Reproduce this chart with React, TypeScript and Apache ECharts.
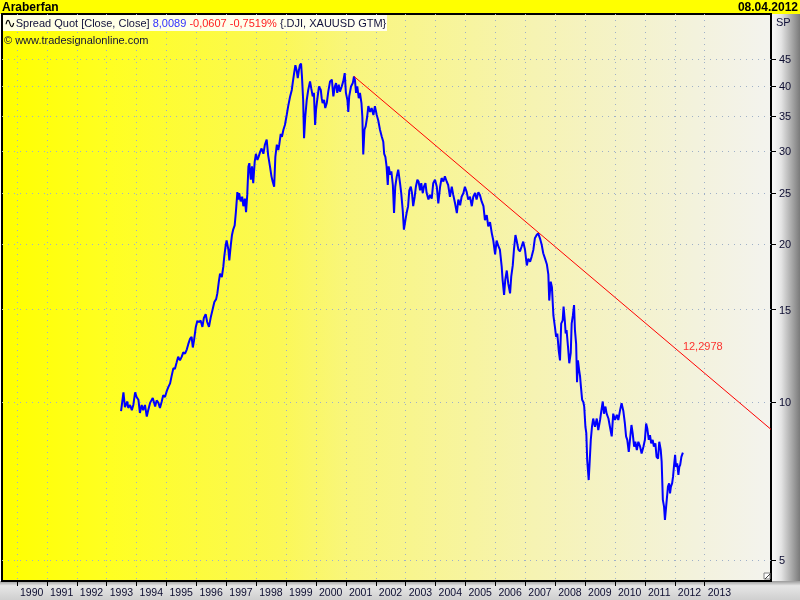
import React, { useEffect, useRef } from "react";
import * as echarts from "echarts";

const years = [
  1993.48, 1993.56, 1993.61, 1993.69, 1993.72, 1993.78, 1993.84, 1993.89, 1993.95, 1994.0,
  1994.06, 1994.11, 1994.17, 1994.22, 1994.28, 1994.34, 1994.39, 1994.45, 1994.54, 1994.62,
  1994.67, 1994.73, 1994.78, 1994.84, 1994.89, 1994.95, 1995.01, 1995.06, 1995.12, 1995.17,
  1995.23, 1995.28, 1995.34, 1995.39, 1995.45, 1995.51, 1995.56, 1995.62, 1995.68, 1995.73,
  1995.79, 1995.84, 1995.88, 1995.92, 1995.98, 1996.03, 1996.1, 1996.14, 1996.2, 1996.25,
  1996.31, 1996.36, 1996.42, 1996.48, 1996.53, 1996.6, 1996.66, 1996.7, 1996.75, 1996.79,
  1996.85, 1996.9, 1996.93, 1996.98, 1997.01, 1997.07, 1997.1, 1997.15, 1997.19, 1997.23,
  1997.28, 1997.32, 1997.37, 1997.4, 1997.43, 1997.48, 1997.53, 1997.57, 1997.62, 1997.66,
  1997.7, 1997.74, 1997.77, 1997.82, 1997.86, 1997.9, 1997.95, 1997.99, 1998.04, 1998.08,
  1998.13, 1998.18, 1998.24, 1998.29, 1998.35, 1998.4, 1998.46, 1998.51, 1998.55, 1998.6,
  1998.64, 1998.69, 1998.74, 1998.77, 1998.82, 1998.86, 1998.91, 1998.96, 1999.02, 1999.07,
  1999.13, 1999.19, 1999.22, 1999.26, 1999.31, 1999.35, 1999.39, 1999.43, 1999.46, 1999.5,
  1999.53, 1999.57, 1999.6, 1999.64, 1999.69, 1999.74, 1999.8, 1999.84, 1999.89, 1999.93,
  1999.97, 2000.0, 2000.04, 2000.1, 2000.16, 2000.19, 2000.22, 2000.27, 2000.31, 2000.36,
  2000.41, 2000.47, 2000.53, 2000.58, 2000.63, 2000.67, 2000.71, 2000.76, 2000.8, 2000.86,
  2000.91, 2000.96, 2001.0, 2001.05, 2001.08, 2001.11, 2001.17, 2001.23, 2001.27, 2001.3,
  2001.34, 2001.38, 2001.43, 2001.47, 2001.52, 2001.55, 2001.58, 2001.62, 2001.66, 2001.71,
  2001.75, 2001.81, 2001.86, 2001.92, 2001.97, 2002.03, 2002.08, 2002.14, 2002.2, 2002.25,
  2002.28, 2002.32, 2002.36, 2002.4, 2002.43, 2002.48, 2002.52, 2002.57, 2002.61, 2002.65,
  2002.7, 2002.75, 2002.81, 2002.85, 2002.9, 2002.94, 2002.99, 2003.03, 2003.08, 2003.12,
  2003.17, 2003.21, 2003.25, 2003.3, 2003.34, 2003.39, 2003.43, 2003.48, 2003.52, 2003.57,
  2003.61, 2003.66, 2003.7, 2003.76, 2003.81, 2003.87, 2003.92, 2003.98, 2004.04, 2004.09,
  2004.15, 2004.2, 2004.26, 2004.31, 2004.37, 2004.42, 2004.48, 2004.54, 2004.59, 2004.65,
  2004.71, 2004.76, 2004.82, 2004.87, 2004.93, 2004.98, 2005.04, 2005.09, 2005.15, 2005.21,
  2005.26, 2005.32, 2005.37, 2005.43, 2005.48, 2005.54, 2005.6, 2005.65, 2005.71, 2005.76,
  2005.82, 2005.88, 2005.93, 2005.99, 2006.04, 2006.1, 2006.15, 2006.21, 2006.24, 2006.29,
  2006.33, 2006.38, 2006.43, 2006.49, 2006.53, 2006.58, 2006.62, 2006.67, 2006.71, 2006.77,
  2006.82, 2006.88, 2006.93, 2006.99, 2007.05, 2007.1, 2007.16, 2007.21, 2007.27, 2007.32,
  2007.38, 2007.43, 2007.49, 2007.55, 2007.6, 2007.66, 2007.72, 2007.77, 2007.8, 2007.85,
  2007.89, 2007.94, 2007.99, 2008.03, 2008.07, 2008.12, 2008.16, 2008.2, 2008.25, 2008.28,
  2008.32, 2008.35, 2008.38, 2008.43, 2008.47, 2008.52, 2008.55, 2008.59, 2008.63, 2008.66,
  2008.7, 2008.73, 2008.76, 2008.8, 2008.83, 2008.86, 2008.9, 2008.94, 2008.97, 2009.01,
  2009.04, 2009.07, 2009.12, 2009.15, 2009.19, 2009.23, 2009.27, 2009.33, 2009.39, 2009.44,
  2009.5, 2009.54, 2009.59, 2009.63, 2009.68, 2009.72, 2009.78, 2009.83, 2009.89, 2009.94,
  2010.0, 2010.06, 2010.11, 2010.17, 2010.22, 2010.28, 2010.33, 2010.37, 2010.41, 2010.46,
  2010.5, 2010.55, 2010.59, 2010.64, 2010.68, 2010.73, 2010.78, 2010.84, 2010.89, 2010.95,
  2011.0, 2011.04, 2011.08, 2011.13, 2011.17, 2011.21, 2011.26, 2011.3, 2011.35, 2011.39,
  2011.44, 2011.48, 2011.53, 2011.56, 2011.6, 2011.64, 2011.67, 2011.71, 2011.74, 2011.77,
  2011.81, 2011.84, 2011.87, 2011.91, 2011.94, 2011.97, 2012.01, 2012.04, 2012.08, 2012.12,
  2012.15, 2012.18, 2012.22, 2012.27,
];

const spread = [
  9.61, 10.43, 9.78, 10.02, 9.74, 9.87, 9.65, 9.87, 10.43, 10.22,
  10.1, 9.53, 9.87, 9.65, 9.87, 9.38, 9.65, 9.96, 10.18, 9.8,
  10.07, 9.96, 9.74, 10.02, 10.3, 10.22, 10.5, 10.67, 10.85, 11.2,
  11.6, 11.56, 11.9, 12.2, 12.0, 12.2, 12.43, 12.36, 12.6, 12.9,
  13.2, 13.3, 12.7, 13.1, 13.9, 14.26, 14.2, 14.3, 13.9, 14.46,
  14.7, 14.2, 13.9, 14.5, 14.9, 15.5, 15.7, 16.1, 16.95, 17.55,
  17.3, 18.1, 18.9, 19.9, 20.3, 19.5, 18.6, 19.9, 20.8, 21.3,
  21.7, 23.0, 25.1, 24.3, 25.0, 24.1, 24.6, 23.6, 24.4, 23.0,
  24.8, 28.1, 28.5, 26.5, 28.1, 26.1, 28.7, 29.7, 28.9, 29.3,
  29.95, 30.4, 29.7, 30.9, 31.6, 29.5, 28.1, 26.9, 26.3, 25.7,
  29.3, 30.9, 30.2, 30.9, 32.4, 32.0, 33.0, 33.7, 35.2, 36.6,
  38.1, 39.3, 40.5, 42.0, 43.8, 42.9, 41.4, 42.9, 43.8, 44.1,
  41.7, 37.6, 31.8, 34.9, 37.6, 39.3, 40.8, 39.6, 38.2, 38.8,
  33.7, 36.0, 37.6, 39.9, 39.3, 37.9, 37.1, 37.6, 36.3, 37.1,
  39.0, 40.8, 41.1, 38.2, 39.9, 40.5, 38.8, 40.2, 39.0, 39.9,
  40.8, 42.3, 38.8, 37.6, 35.7, 38.2, 39.9, 40.5, 41.7, 41.1,
  38.8, 39.9, 37.9, 38.8, 37.1, 34.9, 29.6, 33.0, 33.5, 34.9,
  36.6, 35.7, 36.3, 35.2, 36.6, 35.2, 34.4, 33.0, 32.0, 31.3,
  29.7, 29.3, 28.1, 25.9, 28.1, 27.1, 27.5, 25.9, 22.9, 25.7,
  26.9, 27.7, 26.1, 25.0, 23.2, 21.3, 22.2, 22.9, 23.6, 25.3,
  25.7, 25.0, 23.6, 24.6, 25.7, 26.5, 26.3, 25.3, 26.1, 25.0,
  25.7, 26.1, 25.0, 24.3, 24.8, 24.4, 26.1, 26.5, 25.7, 23.9,
  25.7, 26.7, 26.3, 26.9, 26.3, 25.9, 24.6, 25.7, 24.8, 23.9,
  22.9, 24.3, 23.7, 24.6, 25.0, 25.7, 25.1, 24.3, 24.6, 23.6,
  24.6, 25.0, 24.3, 25.1, 24.8, 24.1, 23.6, 22.2, 22.7, 21.6,
  22.0, 20.95, 20.3, 19.1, 20.3, 19.8, 19.5, 18.1, 17.1, 16.0,
  17.1, 17.8, 16.8, 16.1, 17.35, 18.2, 19.5, 20.8, 20.3, 19.5,
  19.35, 19.8, 20.2, 19.5, 18.2, 18.75, 18.5, 18.9, 19.5, 20.5,
  20.8, 20.95, 20.5, 19.9, 19.2, 18.75, 18.3, 17.5, 15.6, 16.95,
  16.55, 14.6, 13.9, 13.3, 13.5, 12.5, 12.0, 14.1, 14.3, 15.2,
  14.3, 13.5, 13.7, 12.7, 11.85, 12.4, 14.1, 14.6, 15.3, 13.7,
  12.9, 10.9, 12.0, 11.5, 11.2, 10.7, 10.1, 10.0, 9.8, 8.97,
  8.72, 7.75, 7.1, 7.64, 8.47, 8.97, 9.3, 8.97, 9.3, 8.84,
  9.24, 9.6, 10.02, 9.5, 9.8, 9.5, 9.3, 8.97, 8.6, 9.5,
  9.24, 9.45, 9.24, 9.65, 9.95, 9.6, 9.1, 8.6, 8.47, 8.03,
  8.47, 9.04, 8.72, 8.22, 8.4, 8.1, 8.4, 8.22, 7.98, 8.22,
  8.47, 9.1, 8.9, 8.47, 8.65, 8.34, 8.47, 8.22, 8.34, 7.86,
  7.8, 8.4, 8.1, 7.7, 6.51, 6.32, 5.96, 6.32, 6.6, 6.9,
  7.0, 6.7, 6.9, 7.0, 7.2, 7.52, 7.93, 7.52, 7.64, 7.26,
  7.52, 7.59, 7.86, 8.0089,
];

const yTicks = [5, 10, 15, 20, 25, 30, 35, 40, 45];
const xTicks = [
  1990, 1991, 1992, 1993, 1994, 1995, 1996, 1997, 1998, 1999, 2000, 2001,
  2002, 2003, 2004, 2005, 2006, 2007, 2008, 2009, 2010, 2011, 2012, 2013,
];
const trendStart = [2001.27, 41.7];
const trendRef = [2012.27, 12.2978];
const trendLabel = "12,2978";
const titleText = "Araberfan";
const dateText = "08.04.2012";
const legendName = "Spread Quot [Close, Close]";
const legendLast = "8,0089";
const legendChange = "-0,0607 -0,7519%";
const legendSymbols = "{.DJI, XAUUSD GTM}";
const copyright = "© www.tradesignalonline.com";
const unitText = "SP";

export default function App() {
  const ref = useRef<HTMLDivElement>(null);
  useEffect(() => {
    const chart = echarts.init(ref.current!, null, { renderer: "svg" });
    const lg = (v: number) => Math.log10(v);
    const xMin = 1989.498;
    const xMax = 2015.217;
    const yMin = 0.659;
    const yMax = 1.739;
    const slope = (lg(trendRef[1]) - lg(trendStart[1])) / (trendRef[0] - trendStart[0]);
    const trendData = [
      [trendStart[0], lg(trendStart[1])],
      [xMax, lg(trendStart[1]) + slope * (xMax - trendStart[0])],
    ];
    const grid = "#9fb0c8";
    const font = "Liberation Sans";
    const yTickVals = yTicks.map(lg);

    chart.setOption({
      animation: false,
      grid: {
        left: 2,
        top: 14,
        right: 29,
        bottom: 19,
        show: true,
        borderColor: "#000",
        borderWidth: 2,
        backgroundColor: "transparent",
      },
      xAxis: {
        type: "value",
        min: xMin,
        max: xMax,
        axisLine: { show: false },
        axisTick: { show: true, customValues: xTicks, length: 5, lineStyle: { color: "#000" } },
        axisLabel: {
          customValues: xTicks,
          formatter: (v: number) => String(Math.round(v)),
          align: "left",
          padding: [0, 0, 0, 3],
          margin: 5,
          fontSize: 10.5,
          fontFamily: font,
          color: "#0c0c30",
        },
        splitLine: { show: true, lineStyle: { color: grid, type: [1, 5], width: 1 } },
      },
      yAxis: {
        type: "value",
        position: "right",
        min: yMin,
        max: yMax,
        axisLine: { show: false },
        axisTick: { show: true, customValues: yTickVals, length: 5, lineStyle: { color: "#000" } },
        axisLabel: {
          customValues: yTickVals,
          formatter: (v: number) => String(Math.round(Math.pow(10, v))),
          margin: 8,
          fontSize: 11,
          fontFamily: font,
          color: "#0c0c30",
        },
        splitLine: { show: true, lineStyle: { color: grid, type: [1, 5], width: 1 } },
      },
      series: [
        {
          name: "Spread Quot",
          type: "line",
          data: years.map((t, i) => [t, lg(spread[i])]),
          showSymbol: false,
          symbol: "none",
          lineStyle: { color: "#0000ff", width: 2 },
          z: 3,
        },
        {
          name: "Trend",
          type: "line",
          data: trendData,
          symbol: "none",
          lineStyle: { color: "#ff0000", width: 1 },
          z: 4,
        },
        {
          name: "TrendValue",
          type: "scatter",
          data: [[trendRef[0], lg(trendRef[1])]],
          symbolSize: 0,
          itemStyle: { color: "transparent" },
          label: {
            show: true,
            formatter: trendLabel,
            position: [0, -3],
            align: "left",
            verticalAlign: "bottom",
            color: "#ff0000",
            fontSize: 11,
            fontFamily: font,
          },
          z: 5,
        },
      ],
      graphic: [
        { type: "rect", z: -10, shape: { x: 0, y: 0, width: 800, height: 14 }, style: { fill: "#ffff00" } },
        {
          type: "rect",
          z: -10,
          shape: { x: 2, y: 14, width: 769, height: 567 },
          style: {
            fill: new echarts.graphic.LinearGradient(0, 0, 1, 0, [
              { offset: 0, color: "#ffff00" },
              { offset: 0.14, color: "#ffff22" },
              { offset: 0.36, color: "#fbf855" },
              { offset: 0.45, color: "#f9f67c" },
              { offset: 0.69, color: "#f6f3b2" },
              { offset: 0.9, color: "#f3f2dc" },
              { offset: 1, color: "#f3f3ee" },
            ]),
          },
        },
        {
          type: "rect",
          z: -10,
          shape: { x: 771, y: 14, width: 29, height: 567 },
          style: {
            fill: new echarts.graphic.LinearGradient(0, 0, 1, 0, [
              { offset: 0, color: "#fafafa" },
              { offset: 0.35, color: "#e4e4e4" },
              { offset: 1, color: "#7a7a7a" },
            ]),
          },
        },
        {
          type: "rect",
          z: -10,
          shape: { x: 0, y: 581, width: 800, height: 19 },
          style: {
            fill: new echarts.graphic.LinearGradient(0, 0, 0, 1, [
              { offset: 0, color: "#9a9a9a" },
              { offset: 0.25, color: "#e6e6e6" },
              { offset: 1, color: "#cfcfcf" },
            ]),
          },
        },
        {
          type: "text",
          z: 20,
          style: { x: 2, y: 7, text: titleText, fill: "#000", fontSize: 12, fontWeight: "bold", fontFamily: font, verticalAlign: "middle", align: "left" },
        },
        {
          type: "text",
          z: 20,
          style: { x: 798, y: 7, text: dateText, fill: "#000", fontSize: 12, fontWeight: "bold", fontFamily: font, verticalAlign: "middle", align: "right" },
        },
        {
          type: "rect",
          z: 10,
          shape: { x: 3, y: 15, width: 384, height: 16 },
          style: { fill: "rgba(255,255,253,0.9)" },
        },
        {
          type: "text",
          z: 20,
          style: {
            x: 4,
            y: 23,
            text: "{w|∿}" + legendName + " {b|" + legendLast + "} {r|" + legendChange + "} " + legendSymbols,
            fill: "#10103a",
            fontSize: 11,
            fontFamily: font,
            verticalAlign: "middle",
            align: "left",
            rich: {
              w: { fill: "#000", fontSize: 14, fontFamily: "DejaVu Sans" },
              b: { fill: "#3030ff", fontSize: 11, fontFamily: font },
              r: { fill: "#ff2020", fontSize: 11, fontFamily: font },
            },
          },
        },
        {
          type: "text",
          z: 20,
          style: { x: 4, y: 40, text: copyright, fill: "#10103a", fontSize: 11, fontFamily: font, verticalAlign: "middle", align: "left" },
        },
        {
          type: "text",
          z: 20,
          style: { x: 776, y: 22, text: unitText, fill: "#10103a", fontSize: 11, fontFamily: font, verticalAlign: "middle", align: "left" },
        },
        {
          type: "rect",
          z: 20,
          shape: { x: 764, y: 573, width: 6, height: 6 },
          style: { fill: "#ffffff", stroke: "#808080", lineWidth: 1 },
        },
        {
          type: "line",
          z: 21,
          shape: { x1: 765, y1: 579, x2: 770, y2: 574 },
          style: { stroke: "#404040", lineWidth: 1 },
        },
      ],
    });
    return () => chart.dispose();
  }, []);
  return <div ref={ref} style={{ position: "fixed", left: 0, top: 0, width: 800, height: 600 }} />;
}
